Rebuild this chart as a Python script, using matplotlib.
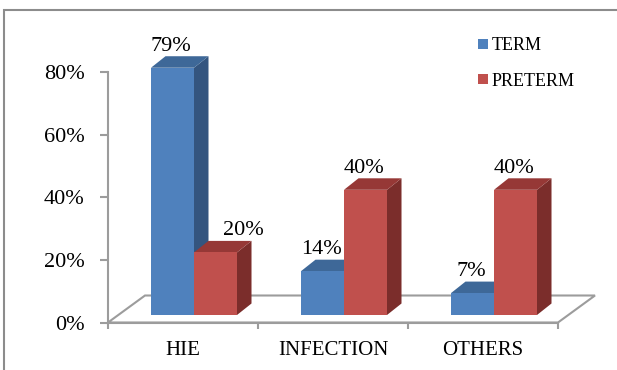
import matplotlib
matplotlib.use("Agg")
import matplotlib.pyplot as plt
from matplotlib.patches import Polygon, Rectangle

# ---- data -------------------------------------------------------------
categories = ["HIE", "INFECTION", "OTHERS"]
series_names = ["TERM", "PRETERM"]
term = [79, 14, 7]
preterm = [20, 40, 40]
y_ticks = [0, 20, 40, 60, 80]

# ---- style ------------------------------------------------------------
plt.rcParams["font.family"] = ["Liberation Serif", "DejaVu Serif"]
FRONT = {"TERM": "#4F81BD", "PRETERM": "#C0504D"}
TOP = {"TERM": "#3E6898", "PRETERM": "#963836"}
SIDE = {"TERM": "#34557F", "PRETERM": "#7B2D2B"}
GRID_GREY = "#9C9C9C"

W, H = 617, 370
fig = plt.figure(figsize=(W / 100, H / 100), dpi=100)

# plot box: category edges -0.5..2.5 and 0..80 %
x0_px, x1_px = 108, 558
y0_px, y80_px = 322.5, 72.1
ax = fig.add_axes([x0_px / W, (H - y0_px) / H,
                   (x1_px - x0_px) / W, (y0_px - y80_px) / H])
ax.set_xlim(-0.5, 2.5)
ax.set_ylim(0, 80)
ax.patch.set_visible(False)

# data units per screen pixel
ux = 3.0 / (x1_px - x0_px)
uy = 80.0 / (y0_px - y80_px)

# 3-D look: floor depth, bar face offset and bar depth
floor_dx, floor_dy = 37 * ux, 27 * uy
face_dx, face_dy = 11 * ux, 7.5 * uy
depth_dx, depth_dy = 14.5 * ux, 11.5 * uy
bar_w = 0.2867

# floor outline
floor = Polygon([(-0.5, 0), (2.5, 0), (2.5 + floor_dx, floor_dy),
                 (-0.5 + floor_dx, floor_dy)], closed=True, fill=False,
                edgecolor=GRID_GREY, lw=1.5, clip_on=False, zorder=1)
ax.add_patch(floor)


def draw_bar(xl, value, name):
    xr = xl + bar_w
    yb = face_dy
    yt = face_dy + value
    front = Rectangle((xl, yb), bar_w, value, facecolor=FRONT[name],
                      edgecolor="none", clip_on=False, zorder=3)
    side = Polygon([(xr, yb), (xr + depth_dx, yb + depth_dy),
                    (xr + depth_dx, yt + depth_dy), (xr, yt)], closed=True,
                   facecolor=SIDE[name], edgecolor="none", clip_on=False, zorder=3)
    top = Polygon([(xl, yt), (xr, yt), (xr + depth_dx, yt + depth_dy),
                   (xl + depth_dx, yt + depth_dy)], closed=True,
                  facecolor=TOP[name], edgecolor="none", clip_on=False, zorder=3)
    ax.add_patch(side)
    ax.add_patch(top)
    ax.add_patch(front)
    return xl + bar_w / 2, yt


label_nudge = {(0, "PRETERM"): 28}
for i in range(len(categories)):
    for k, (name, vals) in enumerate(zip(series_names, [term, preterm])):
        xl = i + face_dx - bar_w + k * bar_w
        cx, yt = draw_bar(xl, vals[i], name)
        nudge = label_nudge.get((i, name), -1.5) * ux
        ax.text(cx + nudge, yt + 17 * uy, f"{vals[i]}%", ha="center",
                va="baseline", fontsize=16, color="black", zorder=4, clip_on=False)

# axes lines and ticks
for s in ("top", "right"):
    ax.spines[s].set_visible(False)
for s in ("left", "bottom"):
    ax.spines[s].set_color(GRID_GREY)
    ax.spines[s].set_linewidth(1.5)
    ax.spines[s].set_zorder(2)

ax.set_yticks(y_ticks)
ax.set_yticklabels([f"{v}%" for v in y_ticks])
ax.tick_params(axis="y", direction="out", length=5.8, width=1.5,
               color=GRID_GREY, pad=11, labelsize=16)

ax.set_xticks([-0.5, 0.5, 1.5, 2.5])
ax.set_xticklabels([])
ax.set_xticks(range(len(categories)), minor=True)
ax.set_xticklabels(categories, minor=True)
ax.tick_params(axis="x", which="major", direction="out", length=4.3,
               width=1.5, color=GRID_GREY)
ax.tick_params(axis="x", which="minor", length=0, pad=13, labelsize=15)

# legend
for j, name in enumerate(series_names):
    cy = 44 + j * 35
    fig.add_artist(Rectangle((478 / W, 1 - (cy + 5) / H), 10 / W, 10 / H,
                             transform=fig.transFigure, facecolor=FRONT[name],
                             edgecolor="none"))
    fig.text(492 / W, 1 - cy / H, name, ha="left", va="center_baseline",
             fontsize=13)

# chart frame
fig.add_artist(Rectangle((4 / W, -0.1), 1.2, (1 - 10 / H) + 0.1,
                         transform=fig.transFigure, fill=False,
                         edgecolor="#8C8C8C", lw=1.5))

fig.savefig("out.png", dpi=100)
